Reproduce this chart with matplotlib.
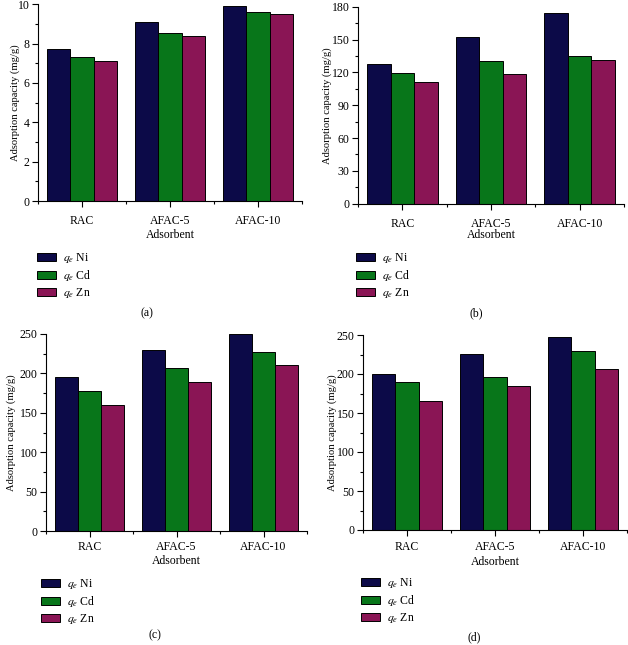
import matplotlib
matplotlib.use("Agg")
import matplotlib.pyplot as plt
import numpy as np
from matplotlib.ticker import MultipleLocator, AutoMinorLocator

plt.rcParams['font.family'] = ['Liberation Serif', 'DejaVu Serif']
plt.rcParams['mathtext.fontset'] = 'stix'

adsorbents = ["RAC", "AFAC-5", "AFAC-10"]
serie_navn = [r"$q_e$ Ni", r"$q_e$ Cd", r"$q_e$ Zn"]
farger = ["#0c0a48", "#08761a", "#8a1555"]

# verdier lest av figuren, rekkefolge Ni, Cd, Zn
verdier_a = [[7.71, 9.12, 9.90], [7.34, 8.54, 9.59], [7.12, 8.39, 9.51]]
verdier_b = [[127.3, 152.6, 174.2], [119.4, 130.1, 134.9], [111.2, 118.2, 131.3]]
verdier_c = [[195.0, 229.7, 250.0], [177.7, 206.4, 226.7], [160.3, 189.1, 210.7]]
verdier_d = [[199.8, 226.0, 247.0], [190.0, 196.4, 229.4], [165.1, 184.8, 206.7]]

W, H = 628, 645
fig = plt.figure(figsize=(W / 100, H / 100), dpi=100)

# (left, right, top, bottom) i piksler, ymax, ytick-steg, legend (x, top), panel-tekst (x, y), ylabel-x
paneler = [
    (verdier_a, (38, 302, 4.3, 201), 10, 2, (37, 251), (147, 313), 10, "(a)", 235, 6),
    (verdier_b, (358, 624, 6.7, 203.7), 180, 30, (356, 251), (476, 313), 322, "(b)", 235, 6),
    (verdier_c, (46, 307, 334, 531), 250, 50, (41, 577), (155, 635), 6, "(c)", 561, 3.5),
    (verdier_d, (363, 627, 335, 530), 250, 50, (361, 576), (474, 637), 327, "(d)", 562, 4),
]

fs = 8.5
x = np.arange(len(adsorbents))
bredde = 0.8 / 3

for verdier, (l, r, t, b), ymax, steg, leg, pan, ylx, navn, xly, xpad in paneler:
    ax = fig.add_axes([l / W, 1 - b / H, (r - l) / W, (b - t) / H])
    for i in range(3):
        ax.bar(x + (i - 1) * bredde, verdier[i], width=bredde, color=farger[i],
               edgecolor="black", linewidth=0.7, label=serie_navn[i])
    ax.set_xlim(-0.5, 2.5)
    ax.set_ylim(0, ymax)
    ax.yaxis.set_major_locator(MultipleLocator(steg))
    ax.yaxis.set_minor_locator(AutoMinorLocator(2))
    ax.set_xticks(x)
    ax.set_xticks(np.arange(-0.5, 3.0, 1.0), minor=True)
    ax.set_xticklabels(adsorbents, fontsize=fs)
    ax.tick_params(axis='y', which='major', direction='out', length=4, width=0.8, labelsize=fs, pad=2)
    ax.tick_params(axis='y', which='minor', direction='out', length=2, width=0.8)
    ax.tick_params(axis='x', which='major', direction='out', length=4, width=0.8, pad=xpad)
    ax.tick_params(axis='x', which='minor', direction='out', length=2, width=0.8)
    for s in ["top", "right"]:
        ax.spines[s].set_visible(False)
    for s in ["left", "bottom"]:
        ax.spines[s].set_linewidth(0.8)
    fig.text(ylx / W, 1 - ((t + b) / 2) / H, "Adsorption capacity (mg/g)", rotation=90,
             ha="left", va="center", fontsize=7.6)
    fig.text(((l + r) / 2) / W, 1 - xly / H, "Adsorbent", ha="center", va="center", fontsize=fs)
    ax.legend(loc="upper left", bbox_to_anchor=(leg[0] / W, 1 - leg[1] / H),
              bbox_transform=fig.transFigure, frameon=False, fontsize=fs,
              handlelength=1.6, handleheight=0.7, handletextpad=0.6,
              labelspacing=0.25, borderpad=0, borderaxespad=0)
    fig.text(pan[0] / W, 1 - pan[1] / H, navn, ha="center", va="center", fontsize=fs)

fig.savefig("out.png", dpi=100)
